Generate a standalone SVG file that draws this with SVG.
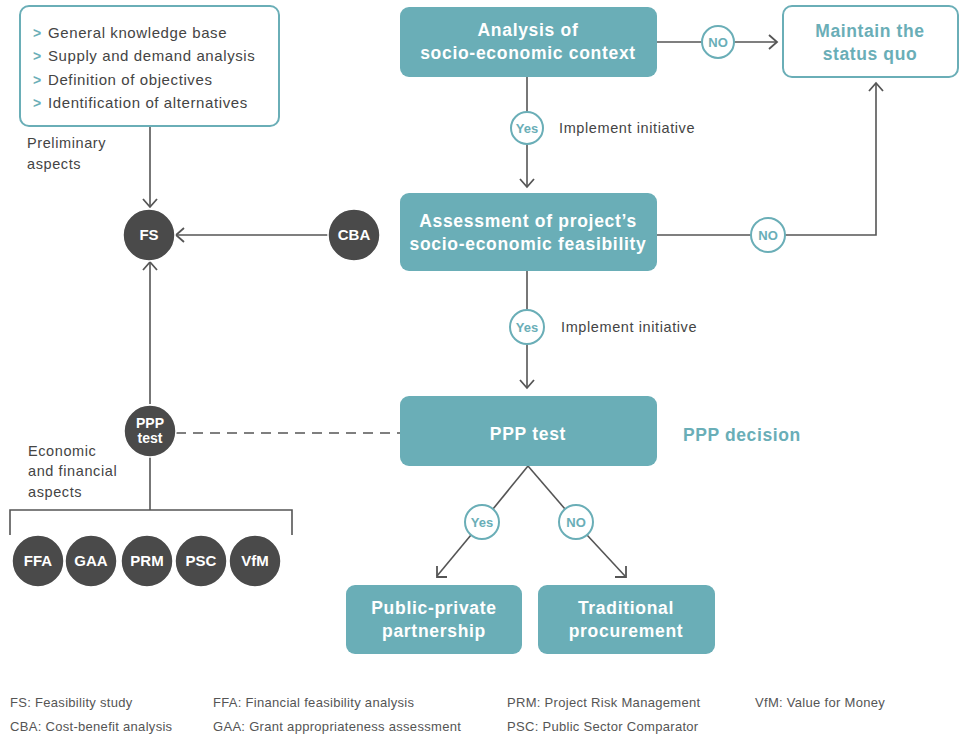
<svg xmlns="http://www.w3.org/2000/svg" width="967" height="735" viewBox="0 0 967 735">
<defs>
<style>
.box{fill:#6aaeb7;stroke:none}
.obox{fill:#fff;stroke:#6aaeb7;stroke-width:2}
.bt{font-family:"Liberation Sans",Arial,sans-serif;font-weight:bold;font-size:17.5px;letter-spacing:0.7px;fill:#fff;text-anchor:middle}
.tt{font-family:"Liberation Sans",Arial,sans-serif;font-weight:bold;font-size:17.5px;letter-spacing:0.6px;fill:#6aaeb7;text-anchor:middle}
.dc{fill:#4a4a4a;stroke:#fff;stroke-width:1.5}
.ct{font-family:"Liberation Sans",Arial,sans-serif;font-weight:bold;font-size:15px;fill:#fff;text-anchor:middle}
.lc{fill:#fff;stroke:#6aaeb7;stroke-width:2}
.lt{font-family:"Liberation Sans",Arial,sans-serif;font-weight:bold;font-size:13px;fill:#6aaeb7;text-anchor:middle}
.txt{font-family:"Liberation Sans",Arial,sans-serif;font-size:14.5px;letter-spacing:0.6px;fill:#444}
.lst{font-family:"Liberation Sans",Arial,sans-serif;font-size:15px;letter-spacing:0.6px;fill:#444}
.leg{font-family:"Liberation Sans",Arial,sans-serif;font-size:13px;letter-spacing:0.3px;fill:#555}
.bul{fill:#6aaeb7;font-family:"Liberation Sans",Arial,sans-serif;font-weight:bold;font-size:14px}
.ln{stroke:#555;stroke-width:1.6;fill:none}
.ah{stroke:#555;stroke-width:1.8;fill:none}
</style>
</defs>

<g id="connectors">
<line class="ln" x1="150" y1="127" x2="150" y2="207"/>
<polyline class="ah" points="143,199 150,207 157,199"/>
<line class="ln" x1="328" y1="235" x2="176" y2="235"/>
<polyline class="ah" points="184,228 176,235 184,242"/>
<line class="ln" x1="150" y1="404" x2="150" y2="262"/>
<polyline class="ah" points="143,270 150,262 157,270"/>
<line class="ln" x1="176" y1="433" x2="400" y2="433" stroke-dasharray="10,7"/>
<line class="ln" x1="150" y1="456" x2="150" y2="510"/>
<polyline class="ln" points="10,535 10,510 292,510 292,535"/>
<line class="ln" x1="657" y1="42" x2="702" y2="42"/>
<line class="ln" x1="734" y1="42" x2="777" y2="42"/>
<polyline class="ah" points="769,35 777,42 769,49"/>
<line class="ln" x1="527" y1="77" x2="527" y2="112"/>
<line class="ln" x1="527" y1="144" x2="527" y2="187"/>
<polyline class="ah" points="520,179 527,187 534,179"/>
<line class="ln" x1="657" y1="235" x2="751" y2="235"/>
<polyline class="ln" points="785,235 876,235 876,83"/>
<polyline class="ah" points="869,91 876,83 883,91"/>
<line class="ln" x1="527" y1="271" x2="527" y2="310"/>
<line class="ln" x1="527" y1="344" x2="527" y2="388"/>
<polyline class="ah" points="520,380 527,388 534,380"/>
<line class="ln" x1="528" y1="466" x2="493" y2="509"/>
<line class="ln" x1="471" y1="535" x2="437" y2="576"/>
<polyline class="ah" points="437,566 437,577 447,577"/>
<line class="ln" x1="528" y1="466" x2="565" y2="509"/>
<line class="ln" x1="587" y1="535" x2="625" y2="576"/>
<polyline class="ah" points="615,577 626,577 626,566"/>
</g>

<g id="preliminary">
<rect class="obox" x="20" y="6" width="259" height="120" rx="9"/>
<text class="bul" x="33" y="38">&gt;</text><text class="lst" x="48" y="38">General knowledge base</text>
<text class="bul" x="33" y="61">&gt;</text><text class="lst" x="48" y="61">Supply and demand analysis</text>
<text class="bul" x="33" y="85">&gt;</text><text class="lst" x="48" y="85">Definition of objectives</text>
<text class="bul" x="33" y="108">&gt;</text><text class="lst" x="48" y="108">Identification of alternatives</text>
</g>
<g id="label-preliminary">
<text class="txt" x="27" y="148">Preliminary</text>
<text class="txt" x="27" y="169">aspects</text>
</g>

<g id="analysis">
<rect class="box" x="400" y="7" width="257" height="70" rx="9"/>
<text class="bt" x="528" y="36">Analysis of</text>
<text class="bt" x="528" y="59">socio-economic context</text>
</g>

<g id="no1"><circle class="lc" cx="718" cy="42" r="16"/><text class="lt" x="718" y="47">NO</text></g>

<g id="maintain">
<rect class="obox" x="783" y="6" width="175" height="71" rx="9"/>
<text class="tt" x="870" y="37">Maintain the</text>
<text class="tt" x="870" y="60">status quo</text>
</g>

<g id="yes1"><circle class="lc" cx="527" cy="128" r="16"/><text class="lt" x="527" y="133">Yes</text></g>
<text class="txt" x="559" y="133">Implement initiative</text>

<g id="fs"><circle class="dc" cx="149" cy="235" r="26"/><text class="ct" x="149" y="240">FS</text></g>
<g id="cba"><circle class="dc" cx="354" cy="235" r="26"/><text class="ct" x="354" y="240">CBA</text></g>

<g id="assessment">
<rect class="box" x="400" y="193" width="257" height="78" rx="9"/>
<text class="bt" x="528" y="227">Assessment of project’s</text>
<text class="bt" x="528" y="250">socio-economic feasibility</text>
</g>

<g id="no2"><circle class="lc" cx="768" cy="235" r="17"/><text class="lt" x="768" y="240">NO</text></g>

<g id="yes2"><circle class="lc" cx="527" cy="327" r="17"/><text class="lt" x="527" y="332">Yes</text></g>
<text class="txt" x="561" y="332">Implement initiative</text>

<g id="ppp-test">
<rect class="box" x="400" y="396" width="257" height="70" rx="9"/>
<text class="bt" x="528" y="440">PPP test</text>
</g>
<text class="tt" x="683" y="441" style="text-anchor:start">PPP decision</text>

<g id="ppp-circle"><circle class="dc" cx="150" cy="431" r="26"/><text class="ct" x="150" y="428" style="font-size:14px">PPP</text><text class="ct" x="150" y="443" style="font-size:14px">test</text></g>

<g id="label-economic">
<text class="txt" x="28" y="456">Economic</text>
<text class="txt" x="28" y="476">and financial</text>
<text class="txt" x="28" y="497">aspects</text>
</g>

<g id="ffa"><circle class="dc" cx="38" cy="561" r="26"/><text class="ct" x="38" y="566">FFA</text></g>
<g id="gaa"><circle class="dc" cx="91" cy="561" r="26"/><text class="ct" x="91" y="566">GAA</text></g>
<g id="prm"><circle class="dc" cx="147" cy="561" r="26"/><text class="ct" x="147" y="566">PRM</text></g>
<g id="psc"><circle class="dc" cx="201" cy="561" r="26"/><text class="ct" x="201" y="566">PSC</text></g>
<g id="vfm"><circle class="dc" cx="255" cy="561" r="26"/><text class="ct" x="255" y="566">VfM</text></g>

<g id="yes3"><circle class="lc" cx="482" cy="522" r="17"/><text class="lt" x="482" y="527">Yes</text></g>
<g id="no3"><circle class="lc" cx="576" cy="522" r="17"/><text class="lt" x="576" y="527">NO</text></g>

<g id="ppp">
<rect class="box" x="346" y="585" width="176" height="69" rx="9"/>
<text class="bt" x="434" y="614">Public-private</text>
<text class="bt" x="434" y="637">partnership</text>
</g>
<g id="traditional">
<rect class="box" x="538" y="585" width="177" height="69" rx="9"/>
<text class="bt" x="626" y="614">Traditional</text>
<text class="bt" x="626" y="637">procurement</text>
</g>

<g id="legend">
<text class="leg" x="10" y="707">FS: Feasibility study</text>
<text class="leg" x="10" y="731">CBA: Cost-benefit analysis</text>
<text class="leg" x="213" y="707">FFA: Financial feasibility analysis</text>
<text class="leg" x="213" y="731">GAA: Grant appropriateness assessment</text>
<text class="leg" x="507" y="707">PRM: Project Risk Management</text>
<text class="leg" x="507" y="731">PSC: Public Sector Comparator</text>
<text class="leg" x="755" y="707">VfM: Value for Money</text>
</g>
</svg>
